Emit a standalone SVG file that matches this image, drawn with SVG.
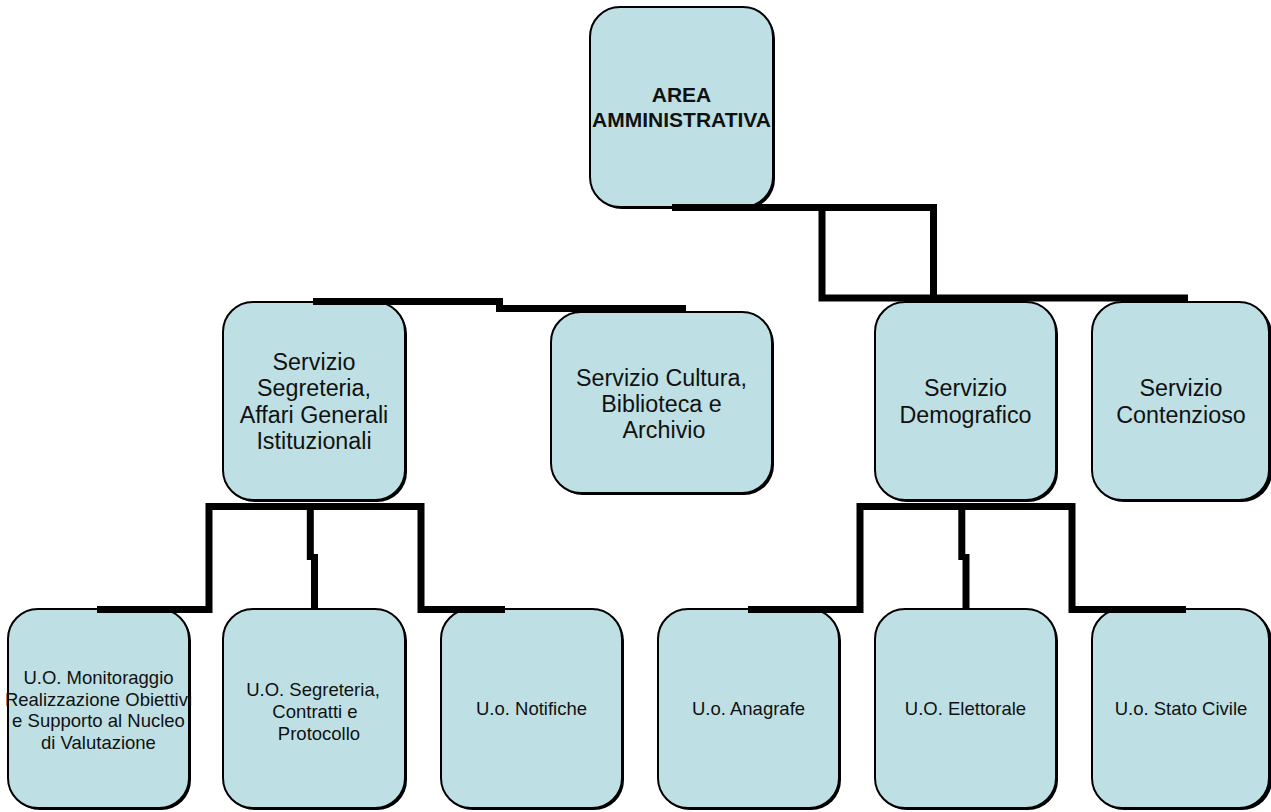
<svg xmlns="http://www.w3.org/2000/svg" width="1271" height="812" viewBox="0 0 1271 812">
  <style>
    .shadow { fill: #000; }
    .box { fill: #BEE0E4; stroke: #000; stroke-width: 2; }
    .t { font-family: "Liberation Sans", Arial, sans-serif; fill: #111; text-anchor: middle; }
    .t1 { font-size: 21px; font-weight: bold; }
    .t2 { font-size: 23.3px; }
    .t3 { font-size: 18.5px; }
    .wire { fill: none; stroke: #000; stroke-width: 7; stroke-linecap: butt; stroke-linejoin: miter; }
  </style>
  <rect width="1271" height="812" fill="#fff"/>

  <!-- top level -->
  <g id="area-amministrativa">
    <rect class="shadow" x="592" y="9" width="183" height="200" rx="30"/>
    <rect class="box" x="590" y="7" width="183" height="200" rx="30"/>
    <text class="t t1" x="681.5" y="102">AREA</text>
    <text class="t t1" x="681.5" y="126.5">AMMINISTRATIVA</text>
  </g>

  <!-- services -->
  <g id="servizio-segreteria">
    <rect class="shadow" x="225" y="304" width="182" height="198" rx="30"/>
    <rect class="box" x="223" y="302" width="182" height="198" rx="30"/>
    <text class="t t2" x="314" y="369.5">Servizio</text>
    <text class="t t2" x="314" y="396">Segreteria,</text>
    <text class="t t2" x="314" y="422.5">Affari Generali</text>
    <text class="t t2" x="314" y="449">Istituzionali</text>
  </g>

  <g id="servizio-cultura">
    <rect class="shadow" x="553" y="314" width="221" height="181" rx="30"/>
    <rect class="box" x="551" y="312" width="221" height="181" rx="30"/>
    <text class="t t2" x="661.5" y="386">Servizio Cultura,</text>
    <text class="t t2" x="661.5" y="412">Biblioteca e</text>
    <text class="t t2" x="664" y="438">Archivio</text>
  </g>

  <g id="servizio-demografico">
    <rect class="shadow" x="877" y="304" width="181" height="198" rx="30"/>
    <rect class="box" x="875" y="302" width="181" height="198" rx="30"/>
    <text class="t t2" x="965.5" y="396">Servizio</text>
    <text class="t t2" x="965.5" y="422.5">Demografico</text>
  </g>

  <g id="servizio-contenzioso">
    <rect class="shadow" x="1094" y="304" width="178" height="198" rx="30"/>
    <rect class="box" x="1092" y="302" width="177" height="198" rx="30"/>
    <text class="t t2" x="1181" y="396">Servizio</text>
    <text class="t t2" x="1181" y="422.5">Contenzioso</text>
  </g>

  <!-- operating units -->
  <g id="uo-monitoraggio">
    <rect class="shadow" x="10" y="611" width="181" height="199" rx="30"/>
    <rect class="box" x="8" y="609" width="181" height="199" rx="30"/>
    <text class="t t3" x="98.5" y="684">U.O. Monitoraggio</text>
    <text class="t t3" x="98.5" y="705.5">Realizzazione Obiettivi</text>
    <text class="t t3" x="98.5" y="727">e Supporto al Nucleo</text>
    <text class="t t3" x="98.5" y="748.5">di Valutazione</text>
  </g>

  <g id="uo-segreteria">
    <rect class="shadow" x="225" y="611" width="182" height="199" rx="30"/>
    <rect class="box" x="223" y="609" width="182" height="199" rx="30"/>
    <text class="t t3" x="313" y="696">U.O. Segreteria,</text>
    <text class="t t3" x="315" y="718">Contratti e</text>
    <text class="t t3" x="319" y="740">Protocollo</text>
  </g>

  <g id="uo-notifiche">
    <rect class="shadow" x="443" y="611" width="181" height="199" rx="30"/>
    <rect class="box" x="441" y="609" width="181" height="199" rx="30"/>
    <text class="t t3" x="531.5" y="715">U.o. Notifiche</text>
  </g>

  <g id="uo-anagrafe">
    <rect class="shadow" x="660" y="611" width="181" height="199" rx="30"/>
    <rect class="box" x="658" y="609" width="181" height="199" rx="30"/>
    <text class="t t3" x="748.5" y="715">U.o. Anagrafe</text>
  </g>

  <g id="uo-elettorale">
    <rect class="shadow" x="877" y="611" width="181" height="199" rx="30"/>
    <rect class="box" x="875" y="609" width="181" height="199" rx="30"/>
    <text class="t t3" x="965.5" y="715">U.O. Elettorale</text>
  </g>

  <g id="uo-stato-civile">
    <rect class="shadow" x="1094" y="611" width="178" height="199" rx="30"/>
    <rect class="box" x="1092" y="609" width="177" height="199" rx="30"/>
    <text class="t t3" x="1181" y="715">U.o. Stato Civile</text>
  </g>

  <!-- connectors -->
  <g id="connectors">
    <path class="wire" d="M672 207.5 H933.5 V298"/>
    <path class="wire" d="M822 207.5 V298 H1188"/>
    <path class="wire" d="M313 301.5 H503"/>
    <path class="wire" d="M496 308.5 H686"/>
    <path class="wire" d="M97 609.5 H209 V506.5 H421 V609.5 H505"/>
    <path class="wire" d="M310.3 506.5 V560"/>
    <path class="wire" d="M314.5 554 V609"/>
    <path class="wire" d="M748 609.5 H860 V506.5 H1072 V609.5 H1186"/>
    <path class="wire" d="M961.8 506.5 V560"/>
    <path class="wire" d="M966 554 V609"/>
  </g>
</svg>
